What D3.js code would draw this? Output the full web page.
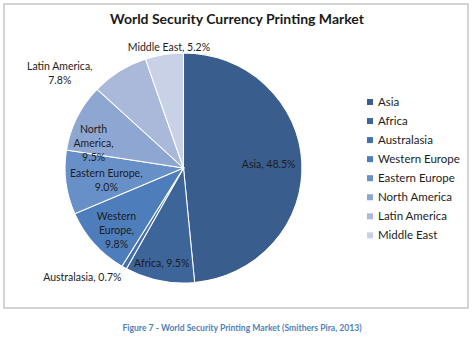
<!DOCTYPE html>
<html>
<head>
<meta charset="utf-8">
<script src="https://cdn.jsdelivr.net/npm/d3@7"></script>
<style>
  html, body { margin: 0; padding: 0; background: #fff; }
  svg { display: block; font-family: Lato, "Open Sans", sans-serif; }
</style>
</head>
<body>
<svg id="chart" width="474" height="339"></svg>
<script>
// Market share by region (percent), clockwise from 12 o'clock
const regions = ["Asia", "Africa", "Australasia", "Western Europe", "Eastern Europe", "North America", "Latin America", "Middle East"];
const shares = [48.5, 9.5, 0.7, 9.8, 9.0, 9.5, 7.8, 5.2];
const sliceColors = ["#395e8d", "#3d659a", "#4370ab", "#4e7dbb", "#6890c8", "#8ea7d2", "#aab9da", "#c8d1e6"];

// Label text lines per slice
const labelLines = [
  ["Asia, 48.5%"],
  ["Africa, 9.5%"],
  ["Australasia, 0.7%"],
  ["Western", "Europe,", "9.8%"],
  ["Eastern Europe,", "9.0%"],
  ["North", "America,", "9.5%"],
  ["Latin America,", "7.8%"],
  ["Middle East, 5.2%"]
];
// Label placement: distance from centre (fraction of radius) and angular shift (degrees)
const labelRadius = [0.72, 0.85, 1.28, 0.78, 0.66, 0.79, 1.33, 1.06];
const labelShift = [0, 0.8, 11.8, -2.5, -1.8, -10, -19, 2.7];

const svg = d3.select("#chart");

// Outer frame
svg.append("rect")
  .attr("x", 4).attr("y", 4).attr("width", 464).attr("height", 304)
  .attr("fill", "none").attr("stroke", "#d4d4d4").attr("stroke-width", 2);

svg.append("text")
  .attr("x", 237).attr("y", 24)
  .attr("text-anchor", "middle")
  .attr("font-weight", "bold").attr("font-size", 14)
  .attr("fill", "#1a1a1a")
  .text("World Security Currency Printing Market");

const cx = 183.5, cy = 168, R = 115;
const g = svg.append("g").attr("transform", `translate(${cx},${cy})`);
const pie = d3.pie().sort(null).value(d => d)(shares);
const arc = d3.arc().innerRadius(0).outerRadius(R);

g.append("g").attr("transform", "scale(1.03,1)")
  .selectAll("path").data(pie).join("path")
  .attr("d", arc)
  .attr("fill", (d, i) => sliceColors[i])
  .attr("stroke", "#ffffff").attr("stroke-width", 1);

const fs = 10.5, lh = 14;
pie.forEach((d, i) => {
  const a = (d.startAngle + d.endAngle) / 2 + labelShift[i] * Math.PI / 180;
  const r = R * labelRadius[i];
  const x = Math.sin(a) * r * 1.03, y = -Math.cos(a) * r;
  const lines = labelLines[i];
  const t = g.append("text")
    .attr("text-anchor", "middle")
    .attr("font-size", fs)
    .attr("fill", "#1c1c1c");
  lines.forEach((s, k) => {
    t.append("tspan")
      .attr("x", x)
      .attr("y", y + (k - (lines.length - 1) / 2) * lh + fs * 0.36)
      .text(s);
  });
});

// Legend
const legend = svg.append("g").attr("transform", "translate(367,102)");
const rows = legend.selectAll("g").data(regions).join("g")
  .attr("transform", (d, i) => `translate(0,${i * 19.05})`);
rows.append("rect")
  .attr("x", 0).attr("y", -3).attr("width", 6).attr("height", 6)
  .attr("fill", (d, i) => sliceColors[i]);
rows.append("text")
  .attr("x", 11).attr("y", 4)
  .attr("font-size", 11.5).attr("fill", "#1c1c1c")
  .text(d => d);

svg.append("text")
  .attr("x", 242).attr("y", 331)
  .attr("text-anchor", "middle")
  .attr("font-weight", "bold").attr("font-size", 8.6)
  .attr("fill", "#4f7fb8")
  .text("Figure 7 - World Security Printing Market (Smithers Pira, 2013)");
</script>
</body>
</html>
